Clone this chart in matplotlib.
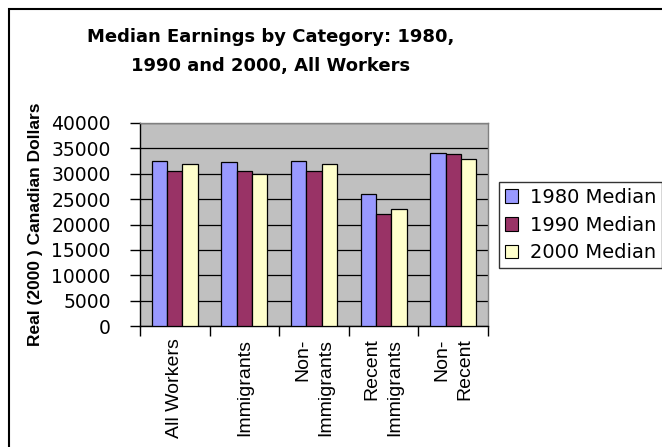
import matplotlib
matplotlib.use('Agg')
import matplotlib.pyplot as plt
import numpy as np
from matplotlib.patches import Rectangle

# ── data ─────────────────────────────────────────────────────────────────────
categories = ['All Workers', 'Immigrants', 'Non-\nImmigrants',
              'Recent\nImmigrants', 'Non-\nRecent']
series_names = ['1980 Median', '1990 Median', '2000 Median']
median_1980 = [32500, 32300, 32500, 26000, 34100]
median_1990 = [30500, 30500, 30500, 22000, 33900]
median_2000 = [32000, 30000, 32000, 23000, 33000]
y_ticks = [0, 5000, 10000, 15000, 20000, 25000, 30000, 35000, 40000]

COLORS = ['#9999FF', '#993366', '#FFFFCC']
PLOT_BG = '#C0C0C0'

W, H = 662, 447
fig = plt.figure(figsize=(W / 100, H / 100), dpi=100)
fig.patch.set_facecolor('white')

# outer chart border (runs off the right and bottom edges)
fig.add_artist(Rectangle((8.5 / W, -0.05), 1.0, 1 - 8.5 / H + 0.05,
                         transform=fig.transFigure, fill=False,
                         edgecolor='black', lw=1.5, clip_on=False))

ax = fig.add_axes([140 / W, 1 - 326 / H, 348 / W, 203 / H])
ax.set_facecolor(PLOT_BG)

x = np.arange(len(categories))
bw = 0.22
for k, vals in enumerate([median_1980, median_1990, median_2000]):
    ax.bar(x + (k - 1) * bw, vals, width=bw, color=COLORS[k],
           edgecolor='black', linewidth=0.9, label=series_names[k], zorder=3)

ax.set_xlim(-0.5, len(categories) - 0.5)
ax.set_ylim(0, 40000)

# grid lines
ax.set_yticks(y_ticks)
ax.yaxis.grid(True, color='black', lw=0.9, zorder=1)
ax.set_axisbelow(True)

ax.set_yticklabels([str(v) for v in y_ticks], fontsize=13.5,
                   family='DejaVu Sans')
ax.tick_params(axis='y', direction='out', length=7, width=1, pad=14)

# category labels at centres, tick marks at boundaries
ax.set_xticks(x)
ax.set_xticklabels(categories, rotation=90, fontsize=14,
                   family='Liberation Sans', va='top', ha='center',
                   multialignment='right', linespacing=1.45)
ax.tick_params(axis='x', which='major', length=0, pad=9)
ax.set_xticks(np.arange(len(categories) + 1) - 0.5, minor=True)
ax.tick_params(axis='x', which='minor', direction='out', length=7, width=1)

for side in ['top', 'right']:
    ax.spines[side].set_color('#808080')
for side in ['left', 'bottom']:
    ax.spines[side].set_color('black')
for sp in ax.spines.values():
    sp.set_linewidth(1)

ax.set_ylabel('Real (2000 ) Canadian Dollars', fontsize=12.5,
              fontweight='bold', family='Liberation Sans', labelpad=6)

fig.text(271 / W, 1 - 28 / H,
         'Median Earnings by Category: 1980,\n1990 and 2000, All Workers',
         ha='center', va='top', fontsize=13, fontweight='bold',
         family='DejaVu Sans', linespacing=1.75)

leg = fig.legend(loc='upper left', bbox_to_anchor=(499 / W, 1 - 182 / H),
                 bbox_transform=fig.transFigure, borderaxespad=0,
                 prop={'family': 'DejaVu Sans', 'size': 14},
                 handlelength=0.7, handleheight=0.7, handletextpad=0.6,
                 labelspacing=0.45, borderpad=0.3, fancybox=False,
                 frameon=True)
leg.get_frame().set_edgecolor('black')
leg.get_frame().set_linewidth(1)
for h in leg.legend_handles:
    h.set_linewidth(0.8)

fig.savefig('out.png', dpi=100)
